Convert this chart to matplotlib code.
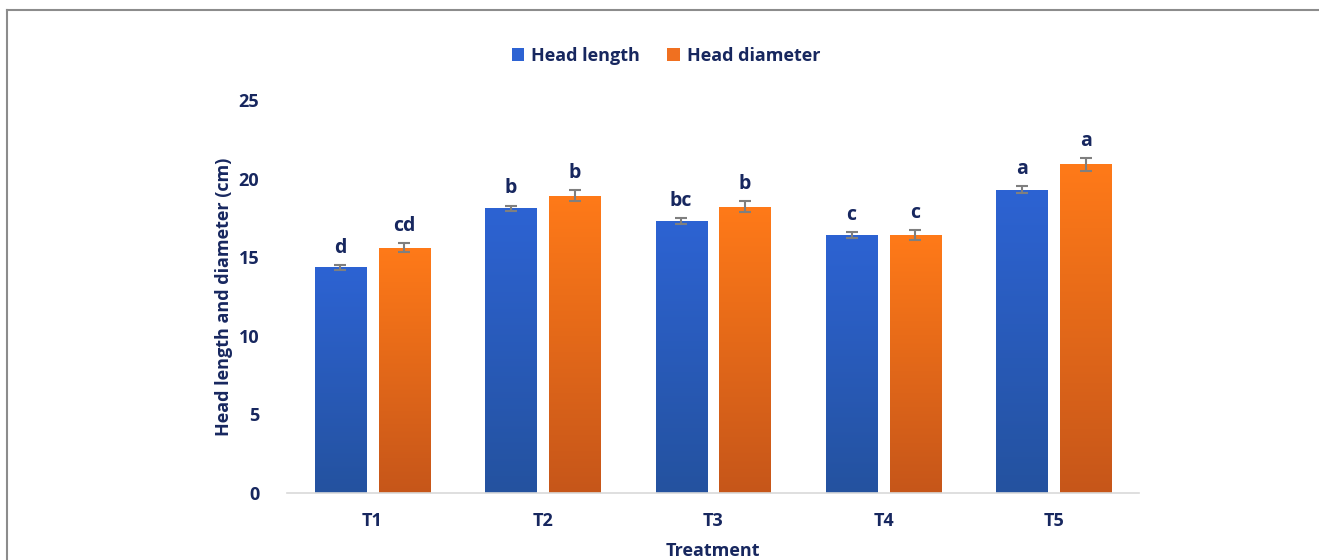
import numpy as np
import matplotlib.pyplot as plt
from matplotlib.colors import LinearSegmentedColormap
from matplotlib.lines import Line2D
from matplotlib.patches import Patch

treatments = ["T1", "T2", "T3", "T4", "T5"]
head_length = [14.35, 18.1, 17.3, 16.4, 19.3]
head_length_err = [0.15, 0.18, 0.17, 0.17, 0.2]
head_diameter = [15.6, 18.9, 18.2, 16.4, 20.9]
head_diameter_err = [0.3, 0.35, 0.35, 0.3, 0.4]
length_letters = ["d", "b", "bc", "c", "a"]
diameter_letters = ["cd", "b", "b", "c", "a"]
yticks = [0, 5, 10, 15, 20, 25]

navy = "#17275F"
font = "Open Sans"

fig = plt.figure(figsize=(13.19, 5.6), dpi=100)
ax = fig.add_axes([0.2176, 0.1196, 0.646, 0.702])

x = np.arange(len(treatments))
width = 0.30
offset = 0.187

# bottom (dark) -> top (light)
blue_cmap = LinearSegmentedColormap.from_list("bl", ["#24529F", "#2D63D3"])
orange_cmap = LinearSegmentedColormap.from_list("or", ["#C6561A", "#FF7A18"])


def gradient_bars(xpos, values, cmap):
    bars = ax.bar(xpos, values, width, color="none", edgecolor="none", zorder=2)
    grad = np.linspace(0, 1, 256).reshape(-1, 1)
    for b in bars:
        x0, y0 = b.get_x(), b.get_y()
        w, h = b.get_width(), b.get_height()
        im = ax.imshow(grad, cmap=cmap, aspect="auto", origin="lower",
                       extent=[x0, x0 + w, y0, y0 + h], zorder=2,
                       interpolation="bicubic")
        im.set_clip_path(b)
    return bars


gradient_bars(x - offset, head_length, blue_cmap)
gradient_bars(x + offset, head_diameter, orange_cmap)

ax.errorbar(x - offset, head_length, yerr=head_length_err, fmt="none",
            ecolor="#7F7F7F", elinewidth=1.5, capsize=4, capthick=1.5, zorder=3)
ax.errorbar(x + offset, head_diameter, yerr=head_diameter_err, fmt="none",
            ecolor="#7F7F7F", elinewidth=1.5, capsize=4, capthick=1.5, zorder=3)

for xi, v, e, t in zip(x - offset, head_length, head_length_err, length_letters):
    ax.text(xi, v + e + 0.45, t, ha="center", va="bottom", fontsize=14,
            fontweight="bold", color=navy, family=font)
for xi, v, e, t in zip(x + offset, head_diameter, head_diameter_err, diameter_letters):
    ax.text(xi, v + e + 0.45, t, ha="center", va="bottom", fontsize=14,
            fontweight="bold", color=navy, family=font)

ax.set_xlim(-0.5, len(treatments) - 0.5)
ax.set_ylim(0, 25)
ax.set_yticks(yticks)
ax.set_yticklabels([str(t) for t in yticks], fontsize=13, fontweight="bold",
                   color=navy, family=font)
ax.set_xticks(x)
ax.set_xticklabels(treatments, fontsize=13, fontweight="bold", color=navy,
                   family=font)
ax.tick_params(axis="both", length=0)
ax.tick_params(axis="y", pad=20)
ax.tick_params(axis="x", pad=14)
for side in ["top", "right", "left"]:
    ax.spines[side].set_visible(False)
ax.spines["bottom"].set_color("#D9D9D9")
ax.spines["bottom"].set_linewidth(1.2)

ax.set_ylabel("Head length and diameter (cm)", fontsize=13, fontweight="bold",
              color=navy, family=font, labelpad=4)
ax.set_xlabel("Treatment", fontsize=13, fontweight="bold", color=navy,
              family=font, labelpad=8)

handles = [Patch(facecolor="#2D63D3", edgecolor="none"),
           Patch(facecolor="#F07020", edgecolor="none")]
fig.legend(handles, ["Head length", "Head diameter"], loc="center",
           bbox_to_anchor=(0.505, 0.900), ncol=2, frameon=False,
           prop={"family": font, "weight": "bold", "size": 13},
           labelcolor=navy, handlelength=0.7, handleheight=0.7,
           handletextpad=0.4, columnspacing=1.5)

# thin frame around the figure
fig.add_artist(Line2D([0.005, 1.0], [0.983, 0.983], transform=fig.transFigure,
                      color="#8C8C8C", linewidth=1.5))
fig.add_artist(Line2D([0.005, 0.005], [0.0, 0.983], transform=fig.transFigure,
                      color="#8C8C8C", linewidth=1.5))

fig.savefig("out.png", dpi=100, facecolor="white")
